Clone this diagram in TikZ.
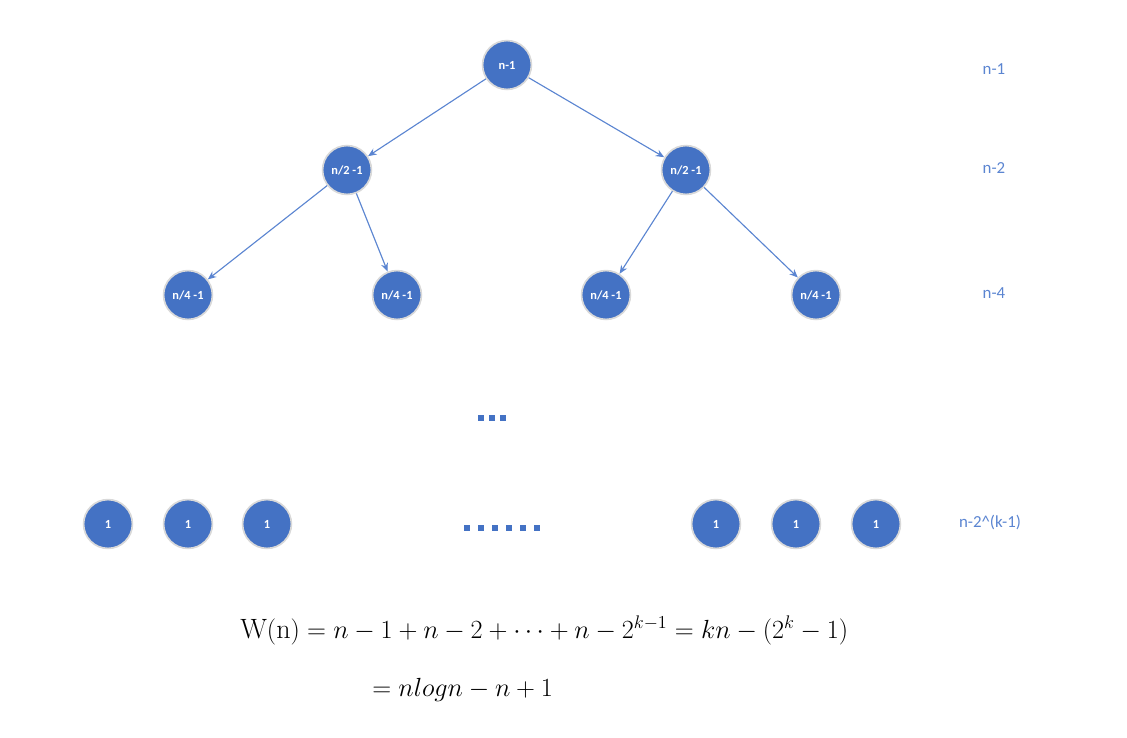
\documentclass[tikz,border=0pt]{standalone}
\usepackage{fontspec}
\newfontfamily\calfont{Carlito}
\usepackage{tikz}
\usetikzlibrary{arrows.meta,positioning,calc}
\definecolor{nodeblue}{HTML}{4472C4}
\definecolor{edgeblue}{HTML}{5B85D1}
\definecolor{rimgray}{HTML}{D9D9D9}
\newcommand{\eqsize}[1]{\scalebox{1.08}{#1}}
\tikzset{
  vtx/.style={circle,fill=nodeblue,draw=rimgray,line width=1.2pt,minimum size=1.22cm,inner sep=0pt,
    text=white,font=\calfont\fontsize{8.8}{9}\selectfont\bfseries},
  lvl/.style={text=edgeblue,font=\calfont\fontsize{12}{13}\selectfont},
  dotsq/.style={fill=nodeblue,minimum size=#1,inner sep=0pt},
  eqn/.style={anchor=base west,inner sep=0pt,font=\fontsize{18.4}{22}\selectfont}
}
\begin{document}
\begin{tikzpicture}[x=0.025cm,y=-0.025cm,>={Stealth[length=6pt,width=5pt]}]
\useasboundingbox (0,0) rectangle (1127,738);
% tree
\node[vtx] (r) at (507,65) {n-1};
\node[vtx] (a) at (347,170) {n/2 -1};
\node[vtx] (b) at (686,170) {n/2 -1};
\node[vtx] (aa) at (188,295) {n/4 -1};
\node[vtx] (ab) at (397,295) {n/4 -1};
\node[vtx] (ba) at (606,295) {n/4 -1};
\node[vtx] (bb) at (816,295) {n/4 -1};
\foreach \u/\v in {r/a,r/b,a/aa,a/ab,b/ba,b/bb}
  \draw[->,edgeblue,line width=0.8pt] (\u) -- (\v);
% leaves
\foreach \x [count=\i] in {108,188,267,716,796,876}
  \node[vtx] (leaf\i) at (\x,524) {1};
% dots
\foreach \x [count=\i] in {481,492,503}
  \node[dotsq=3.6pt] (d\i) at (\x,418) {};
\foreach \x [count=\i] in {467,481,495,509,523,537}
  \node[dotsq=4.2pt] (e\i) at (\x,528) {};
% level sums
\node[lvl] (s1) at (994,69) {n-1};
\node[lvl] (s2) at (994,168) {n-2};
\node[lvl] (s3) at (994,293) {n-4};
\node[lvl] (s4) at (990,522) {n-2\^{}(k-1)};
% total
\node[eqn] (w1) at (240,638)
  {\eqsize{$\mathrm{W(n)} = n-1+n-2+\cdots+n-2^{k-1} = kn-(2^k-1)$}};
\node[eqn] (w2) at (372,696) {\eqsize{$= nlogn-n+1$}};
\end{tikzpicture}
\end{document}
